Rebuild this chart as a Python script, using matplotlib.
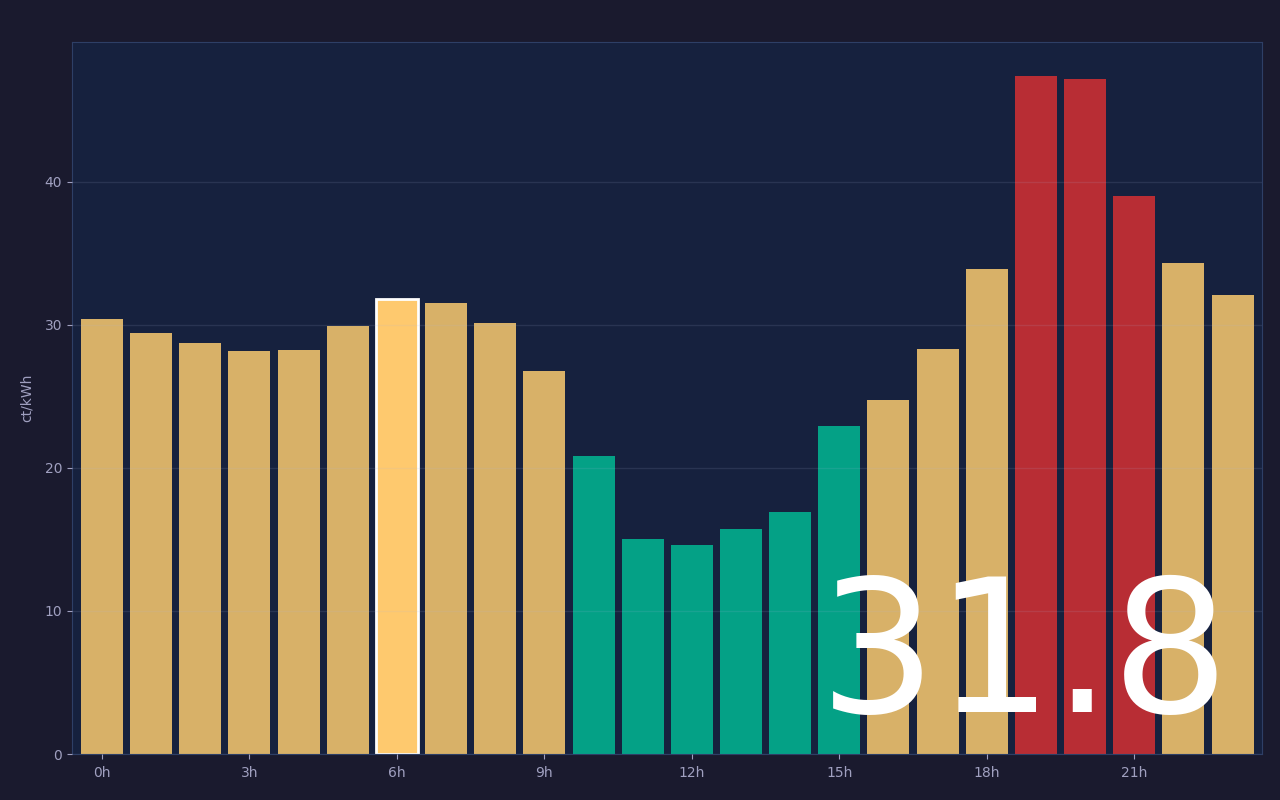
import numpy as np
import matplotlib
matplotlib.use("Agg")
import matplotlib.pyplot as plt

# hourly price, ct/kWh
hours = list(range(24))
prices = [30.4, 29.4, 28.7, 28.2, 28.25, 29.9, 31.8, 31.55, 30.1, 26.8,
          20.85, 15.05, 14.6, 15.75, 16.9, 22.9, 24.75, 28.3, 33.9, 47.4,
          47.2, 39.0, 34.35, 32.1]
current_hour = 6
tick_hours = [0, 3, 6, 9, 12, 15, 18, 21]
tick_labels = [f"{h}h" for h in tick_hours]

CHEAP = 23.0
EXPENSIVE = 36.0

FIG_BG = "#1a1a2e"
AX_BG = "#16213e"
EDGE = "#2e3f66"
TXT = "#a0a0c0"


def bar_color(p, is_now):
    if p < CHEAP:
        return "#04a186"
    if p > EXPENSIVE:
        return "#b82d34"
    return "#fec96e" if is_now else "#d8b168"


fig = plt.figure(figsize=(12.8, 8), dpi=100, facecolor=FIG_BG)
ax = fig.add_axes([0.05625, 0.0575, 0.9297, 0.89])
ax.set_facecolor(AX_BG)

colors = [bar_color(p, h == current_hour) for h, p in zip(hours, prices)]
bars = ax.bar(hours, prices, width=0.855, color=colors, zorder=2)
bars[current_hour].set_edgecolor("white")
bars[current_hour].set_linewidth(2)

ax.set_xlim(-0.61, 23.6)
ax.set_ylim(0, max(prices) * 1.05)
ax.set_xticks(tick_hours)
ax.set_xticklabels(tick_labels)
ax.set_yticks([0, 10, 20, 30, 40])
ax.set_ylabel("ct/kWh", color=TXT, fontsize=10, labelpad=8)

ax.grid(axis="y", color="#aab4dd", alpha=0.13, linewidth=1, zorder=4)
ax.set_axisbelow(False)
for s in ax.spines.values():
    s.set_color(EDGE)
ax.tick_params(colors=TXT, labelsize=10)
ax.tick_params(axis="x", pad=5)

ax.text(0.9735, 0.004, f"{prices[current_hour]:.1f}", transform=ax.transAxes,
        ha="right", va="bottom", fontsize=133, color="white", zorder=3)

fig.savefig("out.png", dpi=100, facecolor=FIG_BG)
